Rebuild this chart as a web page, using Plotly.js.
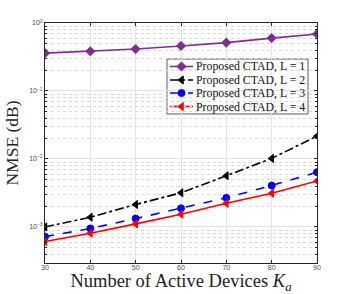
<!DOCTYPE html>
<html><head><meta charset="utf-8">
<script src="https://cdn.plot.ly/plotly-3.0.1.min.js"></script>
<style>html,body{margin:0;padding:0;background:#fff;}#chart{width:349px;height:294px;}</style>
</head><body><div id="chart"></div>
<script>
var Ka = [30, 40, 50, 60, 70, 80, 90];
var nmseL1 = [0.361, 0.383, 0.414, 0.46, 0.514, 0.60, 0.689];
var nmseL2 = [1.0e-3, 1.39e-3, 2.14e-3, 3.18e-3, 5.66e-3, 1.02e-2, 2.17e-2];
var nmseL3 = [7.2e-4, 9.5e-4, 1.33e-3, 1.88e-3, 2.68e-3, 4.07e-3, 6.4e-3];
var nmseL4 = [6.1e-4, 8.1e-4, 1.11e-3, 1.54e-3, 2.23e-3, 3.13e-3, 4.76e-3];
var seriesNames = ['Proposed CTAD, L = 1','Proposed CTAD, L = 2','Proposed CTAD, L = 3','Proposed CTAD, L = 4'];
var yTickVals = [1, 0.1, 0.01, 0.001];
var yTickText = ['10<sup>0</sup>','10<sup>−1</sup>','10<sup>−2</sup>','10<sup>−3</sup>'];
var xTickVals = [30, 40, 50, 60, 70, 80, 90];

var seriesY = [nmseL1, nmseL2, nmseL3, nmseL4];
var styles = [
  {color: '#7E2F8E', dash: 'solid', symbol: 'diamond', size: 7},
  {color: '#000000', dash: 'dashdot', symbol: 'triangle-left', size: 7},
  {color: '#0000FF', dash: 'dash', symbol: 'circle', size: 7},
  {color: '#FF0000', dash: 'solid', symbol: 'triangle-left', size: 7}
];
var serif = '"Liberation Serif", "Times New Roman", serif';

var data = [];
seriesY.forEach(function (y, i) {
  var s = styles[i];
  data.push({x: Ka, y: y, name: seriesNames[i], type: 'scatter', mode: 'lines+markers',
    line: {color: s.color, width: 1.6, dash: s.dash},
    marker: {color: s.color, symbol: s.symbol, size: s.size, line: {color: s.color, width: 1}}});
});

// custom legend (paper coordinates of the plot area)
var legBox = {x0: 0.4485, x1: 0.967, y0: 0.621, y1: 0.85};
var rowY = [0.8188, 0.7625, 0.7083, 0.652];
var sampleX0 = 0.4596, sampleX1 = 0.5441, markX = 0.5018, textX = 0.5478;
var shapes = [{type: 'rect', xref: 'paper', yref: 'paper', x0: legBox.x0, x1: legBox.x1, y0: legBox.y0, y1: legBox.y1,
  fillcolor: '#fff', line: {color: '#333', width: 0.8}, layer: 'between'}];
var annotations = [];
styles.forEach(function (s, i) {
  shapes.push({type: 'line', xref: 'paper', yref: 'paper', x0: sampleX0, x1: sampleX1, y0: rowY[i], y1: rowY[i],
    line: {color: s.color, width: 1.6, dash: s.dash}, layer: 'between'});
  data.push({x: [markX], y: [rowY[i]], xaxis: 'x2', yaxis: 'y2', type: 'scatter', mode: 'markers',
    showlegend: false, hoverinfo: 'skip', cliponaxis: false,
    marker: {color: s.color, symbol: s.symbol, size: s.size, line: {color: s.color, width: 1}}});
  annotations.push({xref: 'paper', yref: 'paper', x: textX, y: rowY[i], xanchor: 'left', yanchor: 'middle',
    text: seriesNames[i], showarrow: false, font: {family: serif, size: 11.8, color: '#111'}});
});

var axisCommon = {showline: true, linecolor: '#262626', linewidth: 1, mirror: 'ticks',
  ticks: 'inside', ticklen: 3, tickcolor: '#262626', zeroline: false,
  gridcolor: '#e3e3e3', gridwidth: 1, tickfont: {family: 'Liberation Sans, Arial', size: 7, color: '#4d4d4d'}};
var layout = {
  width: 349, height: 294,
  margin: {l: 45, r: 32, t: 23, b: 31},
  paper_bgcolor: '#fff', plot_bgcolor: '#fff',
  showlegend: false,
  xaxis: Object.assign({}, axisCommon, {range: [30, 90], tickvals: xTickVals, ticklabelstandoff: -2,
    title: {text: 'Number of Active Devices <i>K<sub>a</sub></i>', standoff: 6,
      font: {family: serif, size: 18.5, color: '#222'}}}),
  yaxis: Object.assign({}, axisCommon, {type: 'log', range: [-3.53, 0], tickvals: yTickVals, ticktext: yTickText,
    minor: {dtick: 'D1', showgrid: true, griddash: 'dot', gridcolor: '#dadada', ticks: 'inside', ticklen: 2, tickcolor: '#262626'},
    title: {text: 'NMSE (dB)', standoff: 6,
      font: {family: serif, size: 17.5, color: '#222'}}}),
  xaxis2: {overlaying: 'x', range: [0, 1], visible: false, fixedrange: true},
  yaxis2: {overlaying: 'y', range: [0, 1], visible: false, fixedrange: true},
  shapes: shapes,
  annotations: annotations
};
Plotly.newPlot('chart', data, layout, {staticPlot: true, displayModeBar: false});
</script></body></html>
